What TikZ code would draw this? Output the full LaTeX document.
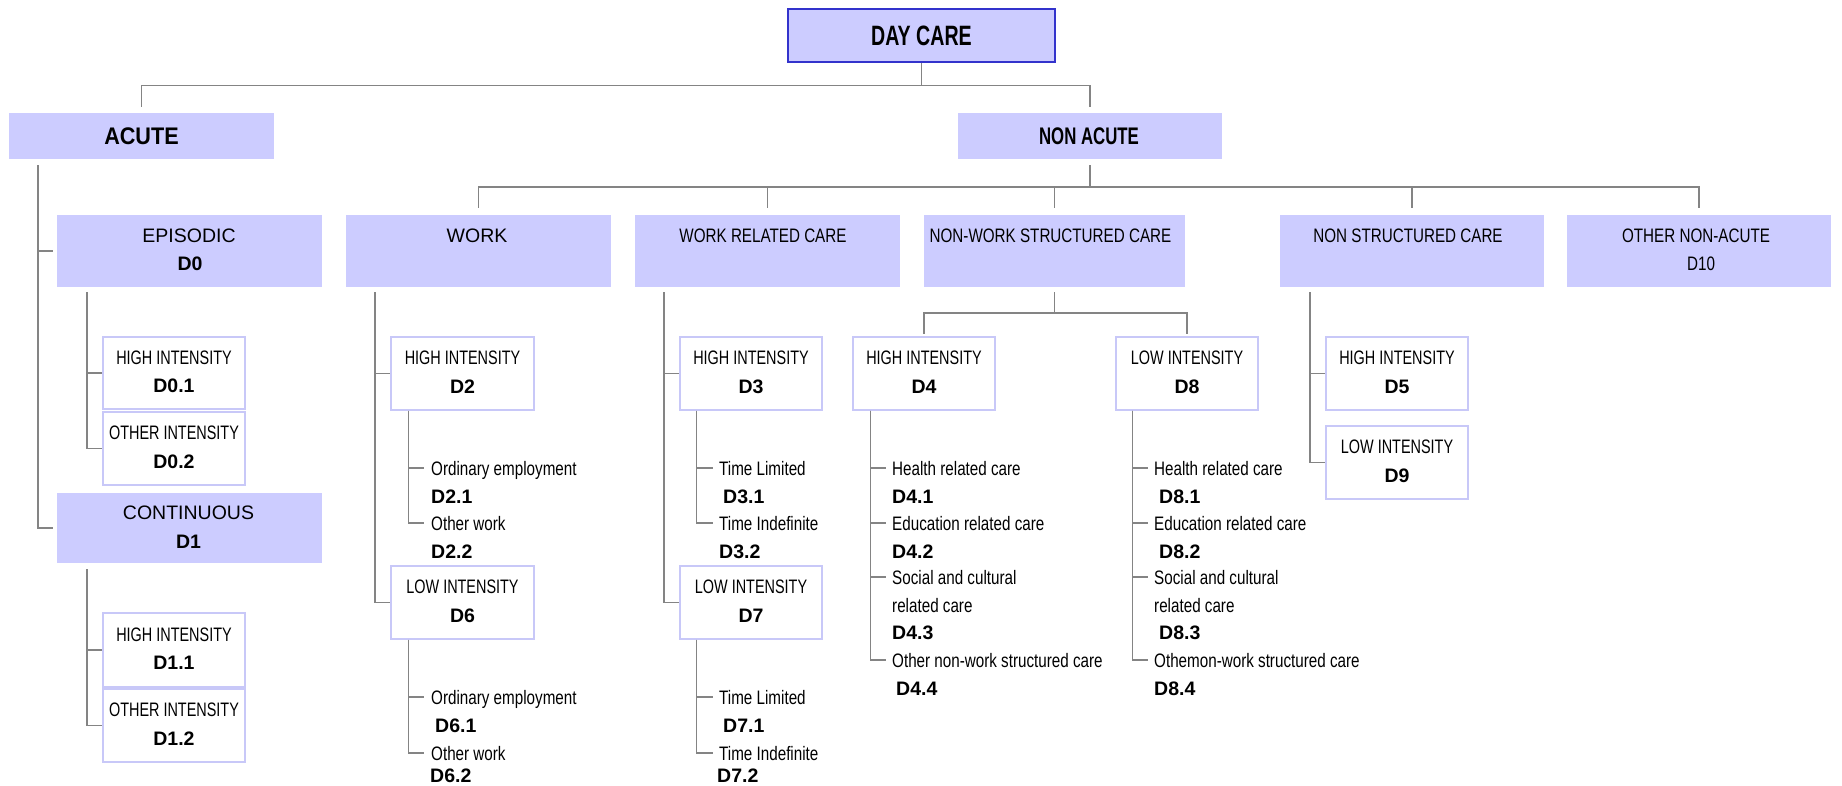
\documentclass[tikz,border=0pt]{standalone}
\usepackage{fontspec}
\setmainfont{Liberation Sans}
\newfontfamily\fA{Liberation Sans}
\newfontfamily\fN[FakeStretch=0.78]{Liberation Sans}
\newfontfamily\fT[FakeStretch=0.74]{Liberation Sans}
\newfontfamily\fH[FakeStretch=0.70]{Liberation Sans}
\newfontfamily\fAc[FakeStretch=0.90]{Liberation Sans}
\usetikzlibrary{calc}
\definecolor{lav}{HTML}{CCCCFF}
\definecolor{dblue}{HTML}{3333CC}
\definecolor{cgray}{HTML}{848484}
\definecolor{lbord}{HTML}{C8C8F8}
\tikzset{
  bigbox/.style={fill=lav, draw=none, inner sep=0pt, minimum width=265pt, minimum height=72pt},
  sbox/.style={fill=white, draw=lbord, line width=1.3pt, inner sep=0pt, minimum width=142pt, minimum height=72pt},
  conn/.style={draw=cgray, line width=1.5pt},
  head/.style={anchor=base, inner sep=0pt, font=\fH\bfseries\fontsize{24pt}{28pt}\selectfont},
  ttl/.style={anchor=base, inner sep=0pt, font=\fN\fontsize{19.5pt}{24pt}\selectfont},
  ttlw/.style={anchor=base, inner sep=0pt, font=\fA\fontsize{19.5pt}{24pt}\selectfont},
  stl/.style={anchor=base, inner sep=0pt, font=\fT\fontsize{19.5pt}{24pt}\selectfont},
  ccode/.style={anchor=base, inner sep=0pt, font=\fA\bfseries\fontsize{19.5pt}{24pt}\selectfont},
  leaf/.style={anchor=base west, inner sep=0pt, font=\fN\fontsize{19.5pt}{24pt}\selectfont},
  lcode/.style={anchor=base west, inner sep=0pt, font=\fA\bfseries\fontsize{19.5pt}{24pt}\selectfont}
}
\newcommand\mkboxtext[3]{%
  \node[stl] (#1-t) at ([shift={(0,-9)}]#1.center) {#2};
  \node[ccode] (#1-c) at ([shift={(0,19.5)}]#1.center) {#3};}
\begin{document}
\begin{tikzpicture}[x=1pt,y=-1pt]
\fill[white] (0,0) rectangle (1842,786);
\useasboundingbox (0,0) rectangle (1842,786);

% ---- level 0
\node[bigbox, minimum width=267pt, minimum height=53pt, draw=dblue, line width=1.5pt] (daycare) at (921.5,35.5) {};
\node[head, font=\fH\bfseries\fontsize{28pt}{30pt}\selectfont] (daycare-t) at (921.5,46) {DAY CARE};

% ---- level 1
\node[bigbox, minimum height=46pt] (acute) at (141.5,136) {};
\node[head, font=\fAc\bfseries\fontsize{24pt}{28pt}\selectfont] (acute-t) at (141.5,144.5) {ACUTE};
\node[bigbox, minimum width=264pt, minimum height=46pt] (nonacute) at (1090,136) {};
\node[head] (nonacute-t) at (1089,144.5) {NON ACUTE};

\coordinate (top-bus) at ([shift={(0,23)}]daycare.south);
\draw[conn] (daycare.south) -- (top-bus);
\draw[conn] (top-bus) -| ([shift={(0,-6)}]acute.north);
\draw[conn] (top-bus) -| ([shift={(0,-6)}]nonacute.north);

% ---- level 2
\node[bigbox] (episodic) at (189.5,251) {};
\node[ttlw] (episodic-t) at (189,243) {EPISODIC};
\node[ccode] (episodic-c) at (190,271) {D0};
\node[bigbox, minimum height=70pt] (continuous) at (189.5,528) {};
\node[ttlw] (continuous-t) at (188.5,519) {CONTINUOUS};
\node[ccode] (continuous-c) at (188.5,548) {D1};

\node[bigbox] (work) at (478.5,251) {};
\node[ttlw] (work-t) at (477,243) {WORK};
\node[bigbox] (wrc) at (767.5,251) {};
\node[ttl] (wrc-t) at (763,243) {WORK RELATED CARE};
\node[bigbox, minimum width=261pt] (nwsc) at (1054.5,251) {};
\node[ttl] (nwsc-t) at (1050.5,243) {NON-WORK STRUCTURED CARE};
\node[bigbox, minimum width=264pt] (nsc) at (1412,251) {};
\node[ttl] (nsc-t) at (1408,243) {NON STRUCTURED CARE};
\node[bigbox, minimum width=264pt] (ona) at (1699,251) {};
\node[ttl] (ona-t) at (1696,243) {OTHER NON-ACUTE};
\node[ttl] (ona-c) at (1701,271) {D10};

\coordinate (ac-trunk) at ([shift={(29,6)}]acute.south west);
\draw[conn] (ac-trunk) |- ([shift={(-4,0)}]episodic.west);
\draw[conn] (ac-trunk) |- ([shift={(-4,0)}]continuous.west);

\coordinate (na-bus) at ([shift={(0,28)}]nonacute.south);
\draw[conn] ([shift={(0,6)}]nonacute.south) -- (na-bus);
\foreach \n in {work,wrc,nwsc,nsc,ona}
  \draw[conn] (na-bus) -| ([shift={(0,-7)}]\n.north);

% ---- level 3 boxes
\node[sbox] (d01) at (174,373) {};
\mkboxtext{d01}{HIGH INTENSITY}{D0.1}
\node[sbox, minimum height=73pt] (d02) at (174,448.5) {};
\mkboxtext{d02}{OTHER INTENSITY}{D0.2}
\node[sbox, minimum height=74pt] (d11) at (174,650) {};
\mkboxtext{d11}{HIGH INTENSITY}{D1.1}
\node[sbox, minimum height=73pt] (d12) at (174,725.5) {};
\mkboxtext{d12}{OTHER INTENSITY}{D1.2}

\node[sbox, minimum width=143pt, minimum height=73pt] (d2) at (462.5,373.5) {};
\mkboxtext{d2}{HIGH INTENSITY}{D2}
\node[sbox, minimum width=143pt, minimum height=73pt] (d6) at (462.5,602.5) {};
\mkboxtext{d6}{LOW INTENSITY}{D6}
\node[sbox, minimum height=73pt] (d3) at (751,373.5) {};
\mkboxtext{d3}{HIGH INTENSITY}{D3}
\node[sbox, minimum height=73pt] (d7) at (751,602.5) {};
\mkboxtext{d7}{LOW INTENSITY}{D7}
\node[sbox, minimum height=73pt] (d4) at (924,373.5) {};
\mkboxtext{d4}{HIGH INTENSITY}{D4}
\node[sbox, minimum height=73pt] (d8) at (1187,373.5) {};
\mkboxtext{d8}{LOW INTENSITY}{D8}
\node[sbox, minimum height=73pt] (d5) at (1397,373.5) {};
\mkboxtext{d5}{HIGH INTENSITY}{D5}
\node[sbox, minimum height=73pt] (d9) at (1397,462.5) {};
\mkboxtext{d9}{LOW INTENSITY}{D9}

% ---- level 3 connectors
\coordinate (ep-trunk) at ([shift={(30,5)}]episodic.south west);
\draw[conn] (ep-trunk) |- (d01.west);
\draw[conn] (ep-trunk) |- (d02.west);
\coordinate (co-trunk) at ([shift={(30,6)}]continuous.south west);
\draw[conn] (co-trunk) |- (d11.west);
\draw[conn] (co-trunk) |- (d12.west);
\coordinate (wk-trunk) at ([shift={(29,5)}]work.south west);
\draw[conn] (wk-trunk) |- (d2.west);
\draw[conn] (wk-trunk) |- (d6.west);
\coordinate (wr-trunk) at ([shift={(29,5)}]wrc.south west);
\draw[conn] (wr-trunk) |- (d3.west);
\draw[conn] (wr-trunk) |- (d7.west);
\coordinate (ns-trunk) at ([shift={(30,5)}]nsc.south west);
\draw[conn] (ns-trunk) |- (d5.west);
\draw[conn] (ns-trunk) |- (d9.west);
\coordinate (nw-bus) at ([shift={(0,26)}]nwsc.south);
\draw[conn] ([shift={(0,5)}]nwsc.south) -- (nw-bus);
\draw[conn] (nw-bus) -| ([shift={(0,-2)}]d4.north);
\draw[conn] (nw-bus) -| ([shift={(0,-2)}]d8.north);

% ---- leaves D2
\node[leaf] (l21) at (431,475) {Ordinary employment};
\node[lcode] (c21) at (431,503) {D2.1};
\node[leaf] (l22) at (431,530) {Other work};
\node[lcode] (c22) at (431,558) {D2.2};
\draw[conn] ([shift={(18,0)}]d2.south west) |- ([shift={(-7,-7)}]l21.base west);
\draw[conn] ([shift={(18,0)}]d2.south west) |- ([shift={(-7,-7)}]l22.base west);
% ---- leaves D6
\node[leaf] (l61) at (431,704) {Ordinary employment};
\node[lcode] (c61) at (435,732) {D6.1};
\node[leaf] (l62) at (431,760) {Other work};
\node[lcode] (c62) at (430,782) {D6.2};
\draw[conn] ([shift={(18,0)}]d6.south west) |- ([shift={(-7,-7)}]l61.base west);
\draw[conn] ([shift={(18,0)}]d6.south west) |- ([shift={(-7,-7)}]l62.base west);
% ---- leaves D3
\node[leaf] (l31) at (719,475) {Time Limited};
\node[lcode] (c31) at (723,503) {D3.1};
\node[leaf] (l32) at (719,530) {Time Indefinite};
\node[lcode] (c32) at (719,558) {D3.2};
\draw[conn] ([shift={(17,0)}]d3.south west) |- ([shift={(-6,-7)}]l31.base west);
\draw[conn] ([shift={(17,0)}]d3.south west) |- ([shift={(-6,-7)}]l32.base west);
% ---- leaves D7
\node[leaf] (l71) at (719,704) {Time Limited};
\node[lcode] (c71) at (723,732) {D7.1};
\node[leaf] (l72) at (719,760) {Time Indefinite};
\node[lcode] (c72) at (717,782) {D7.2};
\draw[conn] ([shift={(17,0)}]d7.south west) |- ([shift={(-6,-7)}]l71.base west);
\draw[conn] ([shift={(17,0)}]d7.south west) |- ([shift={(-6,-7)}]l72.base west);
% ---- leaves D4
\node[leaf] (l41) at (892,475) {Health related care};
\node[lcode] (c41) at (892,503) {D4.1};
\node[leaf] (l42) at (892,530) {Education related care};
\node[lcode] (c42) at (892,558) {D4.2};
\node[leaf] (l43) at (892,584) {Social and cultural};
\node[leaf] (l43b) at (892,612) {related care};
\node[lcode] (c43) at (892,639) {D4.3};
\node[leaf] (l44) at (892,667) {Other non-work structured care};
\node[lcode] (c44) at (896,695) {D4.4};
\foreach \n in {l41,l42,l43,l44}
  \draw[conn] ([shift={(18,0)}]d4.south west) |- ([shift={(-6,-7)}]\n.base west);
% ---- leaves D8
\node[leaf] (l81) at (1154,475) {Health related care};
\node[lcode] (c81) at (1159,503) {D8.1};
\node[leaf] (l82) at (1154,530) {Education related care};
\node[lcode] (c82) at (1159,558) {D8.2};
\node[leaf] (l83) at (1154,584) {Social and cultural};
\node[leaf] (l83b) at (1154,612) {related care};
\node[lcode] (c83) at (1159,639) {D8.3};
\node[leaf] (l84) at (1154,667) {Othemon-work structured care};
\node[lcode] (c84) at (1154,695) {D8.4};
\foreach \n in {l81,l82,l83,l84}
  \draw[conn] ([shift={(17,0)}]d8.south west) |- ([shift={(-6,-7)}]\n.base west);
\end{tikzpicture}
\end{document}
